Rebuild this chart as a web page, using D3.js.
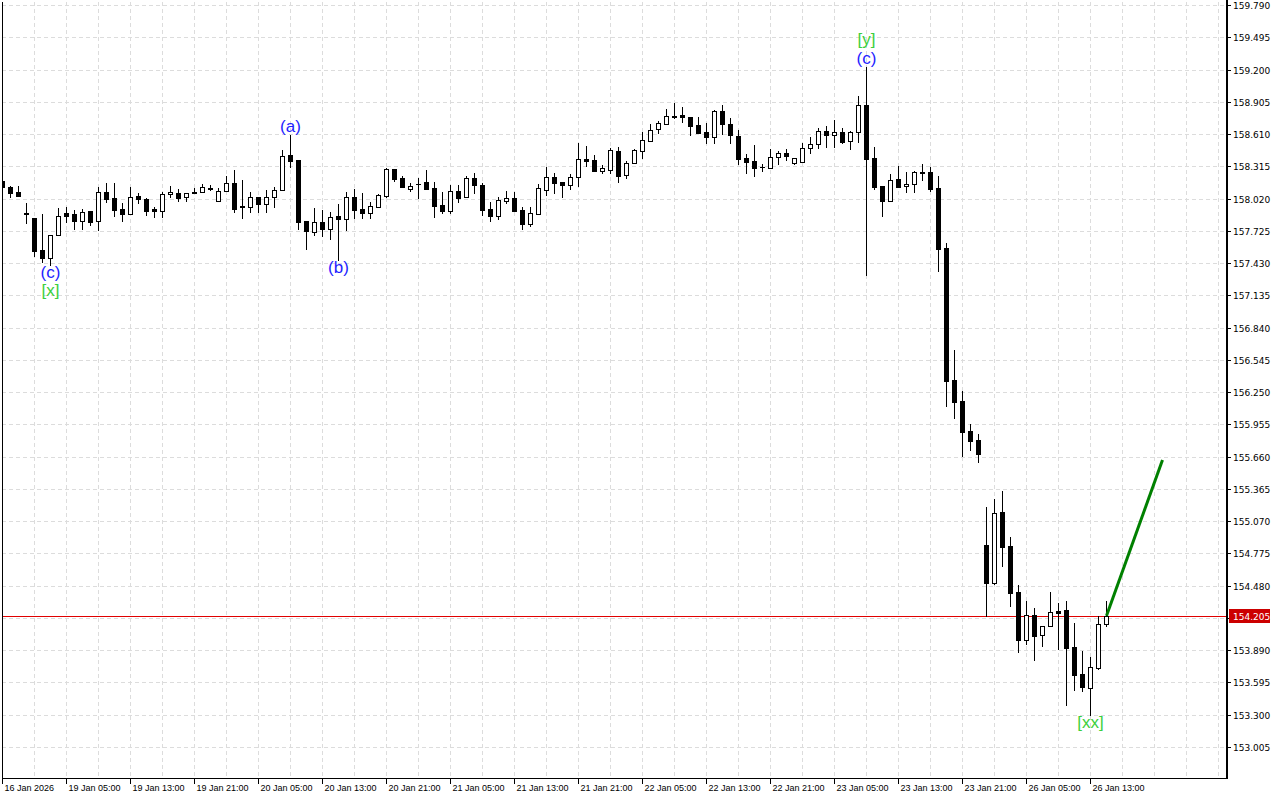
<!DOCTYPE html>
<html><head><meta charset="utf-8">
<script src="https://cdn.jsdelivr.net/npm/d3@7"></script>
<style>
html,body{margin:0;padding:0;background:#fff;}
svg{display:block;}
</style></head>
<body>
<svg id="chart" width="1280" height="800"></svg>
<script>
// ---------- DATA (hourly candles, index 0 = 16 Jan 21:00) ----------
const open = [
158.181,158.126,158.080,157.888,157.843,157.550,157.477,157.687,157.888,157.879,
157.815,157.907,157.815,158.080,158.026,157.925,157.879,158.044,158.016,157.925,
157.907,158.062,158.071,158.035,158.080,158.080,158.117,157.998,158.090,158.163,
157.952,157.943,158.035,157.971,158.035,158.099,158.418,158.373,157.815,157.714,
157.806,157.742,157.861,157.833,158.035,157.925,157.888,157.943,158.044,158.291,
158.208,158.108,158.153,158.172,158.117,157.962,157.907,158.090,158.035,158.208,
158.144,157.925,157.861,157.998,158.026,157.916,157.788,157.879,158.099,158.217,
158.172,158.144,158.217,158.382,158.373,158.272,158.281,158.455,158.236,158.345,
158.455,158.546,158.656,158.702,158.775,158.784,158.766,158.693,158.629,158.583,
158.821,158.702,158.592,158.391,158.364,158.309,158.300,158.400,158.437,158.345,
158.355,158.482,158.519,158.638,158.601,158.629,158.546,158.629,158.876,158.391,
158.135,157.998,158.199,158.135,158.153,158.263,158.263,158.117,157.568,156.361,
156.169,155.895,155.813,154.853,154.505,155.154,154.843,154.423,153.984,154.212,
154.029,154.112,154.249,154.258,153.920,153.673,153.545,153.728,154.130];
const high = [
158.190,158.135,158.135,157.980,157.845,157.879,157.690,157.934,157.943,157.916,
157.925,157.910,158.126,158.163,158.163,157.980,158.126,158.071,158.026,157.943,
158.080,158.135,158.108,158.071,158.117,158.153,158.144,158.117,158.227,158.281,
158.190,158.080,158.038,158.099,158.126,158.464,158.601,158.376,157.818,157.934,
157.916,157.897,157.971,158.080,158.108,158.071,157.989,158.062,158.300,158.294,
158.227,158.163,158.208,158.281,158.172,158.080,158.144,158.144,158.227,158.254,
158.163,157.989,158.035,158.090,158.080,157.943,157.943,158.153,158.309,158.254,
158.175,158.245,158.528,158.501,158.418,158.327,158.482,158.492,158.364,158.473,
158.629,158.702,158.729,158.839,158.894,158.857,158.769,158.766,158.711,158.830,
158.876,158.757,158.647,158.428,158.510,158.336,158.473,158.455,158.473,158.394,
158.528,158.583,158.665,158.684,158.738,158.665,158.638,158.958,159.223,158.492,
158.138,158.245,158.318,158.263,158.272,158.336,158.309,158.227,157.614,156.636,
156.261,155.959,155.868,155.200,155.273,155.346,154.925,154.487,154.340,154.276,
154.115,154.423,154.322,154.340,154.139,153.883,153.828,154.203,154.340];
const low = [
158.117,158.035,158.040,157.797,157.495,157.440,157.413,157.684,157.806,157.742,
157.742,157.779,157.733,157.989,157.861,157.815,157.876,157.980,157.870,157.852,
157.852,158.035,157.998,157.998,158.068,158.078,158.099,157.995,158.087,157.897,
157.843,157.897,157.897,157.897,157.943,158.096,158.309,157.742,157.559,157.687,
157.678,157.651,157.459,157.733,157.843,157.843,157.843,157.940,158.035,158.181,
158.122,158.090,158.026,158.105,157.852,157.888,157.888,157.989,158.032,158.071,
157.870,157.815,157.833,157.980,157.904,157.742,157.769,157.876,158.053,158.071,
158.035,158.108,158.135,158.318,158.270,158.254,158.254,158.172,158.208,158.342,
158.391,158.543,158.620,158.699,158.757,158.720,158.601,158.617,158.528,158.528,
158.610,158.528,158.336,158.254,158.227,158.272,158.297,158.336,158.373,158.336,
158.352,158.437,158.482,158.492,158.492,158.528,158.473,158.537,157.321,158.108,
157.861,157.995,158.122,158.080,158.080,158.190,158.090,157.358,156.124,156.014,
155.666,155.721,155.612,154.203,154.496,154.661,154.295,153.874,153.947,153.801,
153.929,154.109,153.902,153.390,153.527,153.517,153.298,153.719,154.112];
const close = [
158.126,158.071,158.044,157.879,157.541,157.477,157.687,157.861,157.861,157.815,
157.897,157.806,158.080,158.016,157.916,157.879,158.035,158.016,157.907,157.907,
158.062,158.080,158.026,158.071,158.071,158.126,158.112,158.090,158.163,157.925,
157.943,158.035,157.971,158.035,158.099,158.409,158.364,157.806,157.724,157.806,
157.742,157.852,157.833,158.035,157.916,157.888,157.952,158.053,158.291,158.199,
158.126,158.135,158.149,158.108,157.952,157.907,158.090,158.026,158.208,158.144,
157.916,157.861,158.007,158.026,157.907,157.788,157.888,158.117,158.217,158.163,
158.144,158.217,158.382,158.364,158.272,158.300,158.464,158.227,158.345,158.464,
158.556,158.647,158.711,158.775,158.770,158.766,158.684,158.620,158.583,158.821,
158.702,158.601,158.382,158.355,158.300,158.305,158.400,158.437,158.409,158.391,
158.482,158.519,158.638,158.601,158.629,158.537,158.629,158.876,158.382,158.126,
157.998,158.190,158.126,158.153,158.263,158.254,158.108,157.559,156.352,156.160,
155.886,155.804,155.685,154.505,155.145,154.834,154.414,153.984,154.212,154.020,
154.112,154.240,154.231,153.911,153.664,153.554,153.737,154.130,154.205];

const priceTicks = [159.790,159.495,159.200,158.905,158.610,158.315,158.020,157.725,157.430,
  157.135,156.840,156.545,156.250,155.955,155.660,155.365,155.070,154.775,154.480,154.185,
  153.890,153.595,153.300,153.005];
const hiddenTick = 154.185;
const timeTickIdx = [0,8,16,24,32,40,48,56,64,72,80,88,96,104,112,120,128,136];
const timeTickLabels = ["16 Jan 2026","19 Jan 05:00","19 Jan 13:00","19 Jan 21:00","20 Jan 05:00",
  "20 Jan 13:00","20 Jan 21:00","21 Jan 05:00","21 Jan 13:00","21 Jan 21:00","22 Jan 05:00",
  "22 Jan 13:00","22 Jan 21:00","23 Jan 05:00","23 Jan 13:00","23 Jan 21:00","26 Jan 05:00","26 Jan 13:00"];
const currentPrice = 154.205;
const projIdx = [138,145];
const projPrice = [154.205,155.630];
const waveIdx =   [6,    6,    36,   42,   108,  108,  136];
const waveText =  ["(c)","[x]","(a)","(b)","(c)","[y]","[xx]"];
const waveKind =  ["minor","major","minor","minor","minor","major","major"];
const waveAt =    ["low","low","high","low","high","high","low"];

// ---------- LAYOUT ----------
const L = 2, R = 1227, T = 2, B = 778;
const svg = d3.select("#chart");
const x = d3.scaleLinear().domain([0,1]).range([2.5,10.5]);
const y = d3.scaleLinear().domain([153.005,159.790]).range([747,5]);
const gridIdx = d3.range(0,153,4);
const minorColor = "#1e1eff", majorColor = "#3ccf3c";

// grid
const grid = svg.append("g").attr("stroke","#dcdcdc").attr("stroke-dasharray","4,3").attr("stroke-width",1);
grid.selectAll("line.h").data(priceTicks).join("line")
  .attr("x1",L).attr("x2",R)
  .attr("y1",d=>Math.round(y(d))+0.5).attr("y2",d=>Math.round(y(d))+0.5);
grid.selectAll("line.v").data(gridIdx.filter(i=>i>0)).join("line")
  .attr("y1",T).attr("y2",B)
  .attr("x1",d=>x(d)).attr("x2",d=>x(d));

// clip
svg.append("clipPath").attr("id","plot").append("rect").attr("x",L+1).attr("y",T).attr("width",R-L-1).attr("height",B-T);
const plot = svg.append("g").attr("clip-path","url(#plot)");

// current price line
plot.append("line").attr("x1",L).attr("x2",R)
  .attr("y1",Math.round(y(currentPrice))+0.5).attr("y2",Math.round(y(currentPrice))+0.5)
  .attr("stroke","#e00000").attr("stroke-width",1);

// candles
const idx = d3.range(open.length);
const cg = plot.append("g");
cg.selectAll("line.w").data(idx).join("line")
  .attr("x1",i=>x(i)).attr("x2",i=>x(i))
  .attr("y1",i=>Math.round(y(high[i]))).attr("y2",i=>Math.round(y(low[i]))+1)
  .attr("stroke","#000").attr("stroke-width",1);
cg.selectAll("rect.b").data(idx).join("rect")
  .each(function(i){
    const bull = close[i] > open[i];
    const yt = Math.round(y(Math.max(open[i],close[i])));
    const yb = Math.round(y(Math.min(open[i],close[i])));
    const s = d3.select(this);
    if (bull && yb - yt >= 2) {
      s.attr("x",x(i)-2).attr("y",yt+0.5).attr("width",4).attr("height",yb-yt)
       .attr("fill","#fff").attr("stroke","#000").attr("stroke-width",1);
    } else {
      s.attr("x",x(i)-2.5).attr("y",yt).attr("width",5).attr("height",Math.max(1,yb-yt+1))
       .attr("fill","#000");
    }
  });

// projection
plot.append("line")
  .attr("x1",x(projIdx[0])).attr("y1",y(projPrice[0]))
  .attr("x2",x(projIdx[1])).attr("y2",y(projPrice[1]))
  .attr("stroke","#008000").attr("stroke-width",3);

// wave labels
const offs = {minor:{low:8,high:-9},major:{low:26,high:-28}};
plot.selectAll("text.wave").data(d3.range(waveIdx.length)).join("text")
  .attr("x",k=>x(waveIdx[k]))
  .attr("y",k=>{
    const i = waveIdx[k];
    const base = waveAt[k]==="low" ? y(low[i]) : y(high[i]);
    let o = offs[waveKind[k]][waveAt[k]];
    if (waveText[k]==="[xx]") o = 8;
    return base + o;
  })
  .attr("text-anchor","middle").attr("dominant-baseline","central")
  .attr("font-family","'Liberation Sans', Arial, sans-serif").attr("font-size",17)
  .attr("fill",k=>waveKind[k]==="minor"?minorColor:majorColor)
  .text(k=>waveText[k]);

// frame
const frame = svg.append("g").attr("stroke","#000").attr("fill","none");
frame.append("line").attr("x1",L+0.5).attr("x2",L+0.5).attr("y1",T).attr("y2",B+1);
frame.append("line").attr("x1",L).attr("x2",R+1).attr("y1",B+0.5).attr("y2",B+0.5);
frame.append("line").attr("x1",R).attr("x2",R).attr("y1",0).attr("y2",B+1).attr("stroke-width",2);

// price axis
const pa = svg.append("g");
pa.selectAll("line").data(priceTicks).join("line")
  .attr("x1",R).attr("x2",R+4)
  .attr("y1",d=>Math.round(y(d))+0.5).attr("y2",d=>Math.round(y(d))+0.5)
  .attr("stroke","#000");
pa.selectAll("text").data(priceTicks).join("text")
  .attr("x",R+6).attr("y",d=>Math.round(y(d))+0.5)
  .attr("dominant-baseline","central")
  .attr("font-family","'DejaVu Sans', sans-serif").attr("font-size",9)
  .attr("fill","#000")
  .text(d=>d.toFixed(3));

// current price label
const cy = Math.round(y(currentPrice));
svg.append("rect").attr("x",R+2).attr("y",cy-7).attr("width",41).attr("height",14).attr("fill","#cc0000");
svg.append("text").attr("x",R+6).attr("y",cy+0.5).attr("dominant-baseline","central")
  .attr("font-family","'DejaVu Sans', sans-serif").attr("font-size",9).attr("fill","#fff")
  .text(currentPrice.toFixed(3));

// time axis
const ta = svg.append("g");
ta.selectAll("line").data(timeTickIdx).join("line")
  .attr("x1",i=>x(i)).attr("x2",i=>x(i)).attr("y1",B).attr("y2",B+6)
  .attr("stroke","#000");
ta.selectAll("text").data(d3.range(timeTickIdx.length)).join("text")
  .attr("x",k=>x(timeTickIdx[k])+2).attr("y",B+13)
  .attr("font-family","'Liberation Sans', Arial, sans-serif").attr("font-size",9)
  .attr("fill","#000")
  .text(k=>timeTickLabels[k]);
</script>
</body></html>
